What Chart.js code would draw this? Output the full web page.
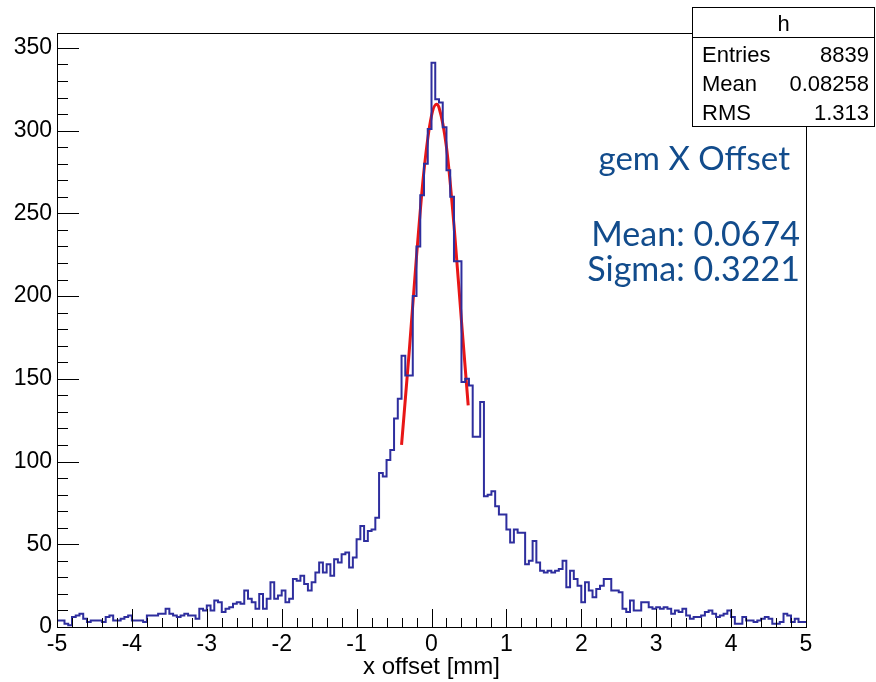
<!DOCTYPE html>
<html>
<head>
<meta charset="utf-8">
<script src="https://cdn.jsdelivr.net/npm/chart.js@4.4.1/dist/chart.umd.min.js"></script>
<style>
  html, body { margin: 0; padding: 0; background: #ffffff; }
  #wrap { width: 876px; height: 682px; }
</style>
</head>
<body>
<div id="wrap"><canvas id="c" width="876" height="682"></canvas></div>
<script>
// ---------------- data ----------------
const xMin = -5;
const xMax = 5;
const yMax = 359;
// bin contents, 200 bins of width 0.05 from -5 to 5
const counts = [
  4,4,2,1,6,7,8,5,3,4, 4,4,3,6,7,4,4,5,6,7,
  4,4,4,3,7,7,7,8,8,11, 8,7,6,7,8,7,7,5,11,10,
  13,10,16,15,9,11,12,14,15,14, 22,17,15,11,20,11,17,27,17,19,
  22,15,17,29,28,31,26,22,27,33, 39,33,38,31,41,39,44,45,36,42,
  53,61,52,58,59,66,93,91,101,107, 126,138,164,152,152,200,230,261,280,301,
  341,319,317,302,276,260,221,221,148,150, 146,115,115,136,79,80,82,73,68,68,
  59,51,59,57,57,38,40,52,39,34, 33,34,33,34,35,40,24,34,29,25,
  15,27,22,18,23,25,29,29,22,22, 21,11,9,16,10,10,15,15,12,11,
  12,11,12,11,8,10,9,11,7,5, 6,6,7,9,10,8,6,7,8,10,
  6,2,2,6,4,4,3,4,5,6, 5,2,2,3,8,7,3,5,3,3
];
// gaussian fit curve
const fitX = [-0.40, -0.30, -0.20, -0.10, 0.00, 0.067, 0.10, 0.20, 0.30, 0.40, 0.49];
const fitY = [110, 165, 224, 276, 309, 316, 314, 290, 243, 185, 134];
// tick labels
const xTickValues = [-5,-4,-3,-2,-1,0,1,2,3,4,5];
const yTickValues = [0,50,100,150,200,250,300,350];
// stats box
const statTitle = 'h';
const statLabels = ['Entries', 'Mean', 'RMS'];
const statValues = ['8839', '0.08258', '1.313'];
// annotation text
const fitTitle = 'gem X Offset';
const fitLines = ['Mean: 0.0674', 'Sigma: 0.3221'];
const xTitle = 'x offset [mm]';

// ---------------- build ----------------
const binWidth = (xMax - xMin) / counts.length;
const histData = counts.map((c, i) => ({ x: xMin + i * binWidth, y: c }));
histData.push({ x: xMax, y: counts[counts.length - 1] });
const fitData = fitX.map((x, i) => ({ x: x, y: fitY[i] }));

const HFONT = '"Liberation Sans", Arial, Helvetica, sans-serif';

const rootFrame = {
  id: 'rootFrame',
  afterDatasetsDraw(chart) {
    const ctx = chart.ctx;
    const a = chart.chartArea;
    const xs = chart.scales.x, ys = chart.scales.y;
    ctx.save();
    ctx.strokeStyle = '#000';
    ctx.lineWidth = 1;
    // frame
    ctx.strokeRect(Math.round(a.left) + 0.5, Math.round(a.top) + 0.5,
                   Math.round(a.right - a.left), Math.round(a.bottom - a.top));
    // x ticks (inside)
    ctx.beginPath();
    for (let i = 0; i <= 50; i++) {
      const v = xMin + i * 0.2;
      const px = Math.round(xs.getPixelForValue(v)) + 0.5;
      const len = (i % 5 === 0) ? 18 : 9;
      ctx.moveTo(px, a.bottom);
      ctx.lineTo(px, a.bottom - len);
    }
    // y ticks (inside)
    for (let v = 0; v <= yMax; v += 10) {
      const py = Math.round(ys.getPixelForValue(v)) + 0.5;
      const len = (v % 50 === 0) ? 22 : 11;
      ctx.moveTo(a.left, py);
      ctx.lineTo(a.left + len, py);
    }
    ctx.stroke();

    // x axis title
    ctx.fillStyle = '#000';
    ctx.font = '24px ' + HFONT;
    ctx.textAlign = 'center';
    ctx.textBaseline = 'middle';
    ctx.fillText(xTitle, (a.left + a.right) / 2, 667);

    // fit annotation text
    ctx.fillStyle = '#124c8c';
    ctx.textAlign = 'right';
    ctx.textBaseline = 'alphabetic';
    ctx.font = '33px Lato, "Open Sans", sans-serif';
    ctx.fillText(fitTitle, 790, 170);
    ctx.font = '34px Lato, "Open Sans", sans-serif';
    ctx.fillText(fitLines[0], 800, 246);
    ctx.fillText(fitLines[1], 800, 281);

    // stats box
    const bx = 692.5, by = 7.5, bw = 182, bh = 119;
    ctx.fillStyle = '#fff';
    ctx.fillRect(bx, by, bw, bh);
    ctx.strokeStyle = '#000';
    ctx.strokeRect(bx, by, bw, bh);
    ctx.beginPath();
    ctx.moveTo(bx, 37.5);
    ctx.lineTo(bx + bw, 37.5);
    ctx.stroke();
    ctx.fillStyle = '#000';
    ctx.font = '22px ' + HFONT;
    ctx.textAlign = 'center';
    ctx.fillText(statTitle, bx + bw / 2, 31);
    const rowY = [62, 91, 120];
    for (let i = 0; i < statLabels.length; i++) {
      ctx.textAlign = 'left';
      ctx.fillText(statLabels[i], 702, rowY[i]);
      ctx.textAlign = 'right';
      ctx.fillText(statValues[i], 869, rowY[i]);
    }
    ctx.restore();
  }
};

new Chart(document.getElementById('c'), {
  type: 'line',
  data: {
    datasets: [
      {
        label: 'h',
        data: histData,
        stepped: 'before',
        borderColor: '#2e2e9e',
        borderWidth: 2,
        pointRadius: 0,
        fill: false
      },
      {
        label: 'fit',
        data: fitData,
        borderColor: '#e81616',
        borderWidth: 3,
        pointRadius: 0,
        cubicInterpolationMode: 'monotone',
        fill: false
      }
    ]
  },
  options: {
    responsive: false,
    animation: false,
    devicePixelRatio: 1,
    layout: { padding: { top: 33, right: 70, left: 0, bottom: 0 } },
    plugins: { legend: { display: false }, tooltip: { enabled: false } },
    scales: {
      x: {
        type: 'linear',
        min: xMin, max: xMax,
        grid: { display: false, drawTicks: false },
        border: { display: false },
        afterBuildTicks: (s) => { s.ticks = xTickValues.map(v => ({ value: v })); },
        afterFit: (s) => { s.height = 55; },
        ticks: {
          color: '#000',
          padding: 4,
          maxRotation: 0,
          autoSkip: false,
          font: { family: HFONT, size: 23 },
          callback: (v) => String(v)
        }
      },
      y: {
        type: 'linear',
        min: 0, max: yMax,
        grid: { display: false, drawTicks: false },
        border: { display: false },
        afterBuildTicks: (s) => { s.ticks = yTickValues.map(v => ({ value: v })); },
        afterFit: (s) => { s.width = 57; },
        ticks: {
          color: '#000',
          padding: 5,
          autoSkip: false,
          font: { family: HFONT, size: 23 },
          callback: (v) => String(v)
        }
      }
    }
  },
  plugins: [rootFrame]
});
</script>
</body>
</html>
